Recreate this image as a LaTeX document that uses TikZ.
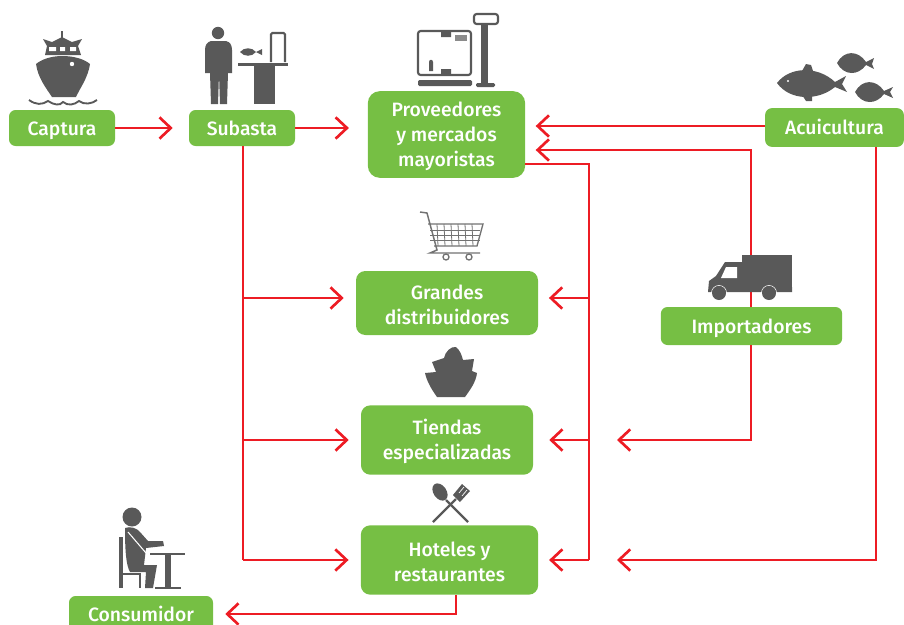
\documentclass[tikz,border=0pt]{standalone}
\usepackage{fontspec}
\setmainfont{Fira Sans}[UprightFont=* Medium]
\usepackage{xcolor}
\usetikzlibrary{arrows.meta}
\usetikzlibrary{calc}
\definecolor{boxgreen}{RGB}{118,191,68}
\definecolor{linered}{RGB}{237,28,36}
\definecolor{icongray}{RGB}{89,89,89}
\newcommand{\boxstrut}{\rule{0pt}{13.5pt}}
\tikzset{
  boxnode/.style={fill=boxgreen,text=white,rounded corners=5pt,inner sep=0pt,align=center,
    font=\fontsize{14.5}{19}\selectfont},
  oneline/.style={boxnode,text height=13.5pt,text depth=3pt},
  flowline/.style={draw=linered,line width=2.1pt},
  flowarrow/.style={flowline,-{Straight Barb[length=8.5pt,width=16pt,line width=2pt]}},
  iconfill/.style={fill=icongray,draw=none},
  iconline/.style={draw=icongray,line width=1.6pt},
  iconthin/.style={draw=icongray!85,line width=0.6pt}
}
\begin{document}
\begin{tikzpicture}[x=0.75pt,y=0.75pt,yscale=-1,xscale=1]
  \useasboundingbox (0,0) rectangle (904,625);

  % Boxes
  \node [oneline,minimum width=79.5pt,minimum height=27pt] (captura) at (62,128) {Captura};
  \node [oneline,minimum width=79.5pt,minimum height=27pt] (subasta) at (242,128) {Subasta};
  \node [boxnode,minimum width=118pt,minimum height=65pt,rounded corners=9pt] (proveedores) at (446.5,134.5) {\boxstrut Proveedores\\y mercados\\mayoristas};
  \node [oneline,minimum width=104pt,minimum height=29pt] (acuicultura) at (834.5,127.5) {Acuicultura};
  \node [oneline,minimum width=136pt,minimum height=28.5pt] (importadores) at (751.5,326) {Importadores};
  \node [boxnode,minimum width=136.5pt,minimum height=48pt,rounded corners=7pt] (grandes) at (447,303) {\boxstrut Grandes\\distribuidores};
  \node [boxnode,minimum width=129pt,minimum height=52pt,rounded corners=7pt] (tiendas) at (447,440) {\boxstrut Tiendas\\especializadas};
  \node [boxnode,minimum width=133pt,minimum height=52pt,rounded corners=7pt] (hoteles) at (449.5,560) {\boxstrut Hoteles y\\restaurantes};
  \node [oneline,minimum width=108pt,minimum height=27pt] (consumidor) at (141,614) {Consumidor};

  % Free ends of the lines
  \coordinate (provOut) at (525,164);
  \coordinate (provInA) at (525,126);
  \coordinate (provInB) at (525,150);
  \coordinate (acuiOut) at (876,147);
  \coordinate (acuiIn) at (765,126);
  \coordinate (impTop) at (751,307);
  \coordinate (impOut) at (751,345);
  \coordinate (tiendasIn) at (617,440);
  \coordinate (hotelesIn) at (617,560);
  \coordinate (hotelesOut) at (456,595);
  \coordinate (subastaOut) at (243,146);
  \coordinate (trunkR) at (589,164);

  % Top row
  \draw [flowarrow,shorten >=12pt] (captura.east) -- (subasta.west);
  \draw [flowarrow,shorten >=14pt] (subasta.east) -- (proveedores.west |- subasta.east);
  \draw [flowarrow,shorten >=8pt] (acuiIn) -- (provInA);
  \draw [flowarrow,shorten >=8pt] (impTop) |- (provInB);

  % Left trunk
  \draw [flowline] (subastaOut) -- (subastaOut |- hoteles.west);
  \draw [flowarrow,shorten >=9pt] (subastaOut |- 0,298) -- (grandes.west |- 0,298);
  \draw [flowarrow,shorten >=9pt] (subastaOut |- tiendas.west) -- (tiendas.west);
  \draw [flowarrow,shorten >=9pt] (subastaOut |- hoteles.west) -- (hoteles.west);

  % Right trunk
  \draw [flowline] (provOut) -- (trunkR) -- (trunkR |- hoteles.east);
  \draw [flowarrow,shorten >=8pt] (trunkR |- 0,298) -- (grandes.east |- 0,298);
  \draw [flowarrow,shorten >=12pt] (trunkR |- tiendas.east) -- (tiendas.east);
  \draw [flowarrow,shorten >=8pt] (trunkR |- hoteles.east) -- (hoteles.east);

  % Long lines
  \draw [flowarrow] (impOut) |- (tiendasIn);
  \draw [flowarrow] (acuiOut) |- (hotelesIn);
  \draw [flowarrow,shorten >=9pt] (hotelesOut) |- (consumidor.east);

  %Shape: ship
  \draw [iconline,line width=1.2pt] (62,31) -- (62,40);
  \fill [icongray] (43,39) -- (52,42) -- (62,37) -- (72,42) -- (82,39) -- (78,46) -- (81,55) -- (45,55) -- (47,46) -- cycle;
  \fill [white] (49,47) rectangle (56,51) (60,47) rectangle (65,51) (70,47) rectangle (76,51);
  \fill [icongray] (62,56) .. controls (74,56) and (84,59) .. (90,64) .. controls (88,78) and (80,88) .. (76,97) -- (52,97) .. controls (46,88) and (38,78) .. (36,64) .. controls (42,59) and (52,56) .. (62,56) -- cycle;
  \fill [white] (72,64) circle (2.2);
  \draw [iconline,line width=1.4pt] (29,100) .. controls (36,105) and (42,105) .. (48,101) .. controls (54,105) and (60,106) .. (63,102) .. controls (68,106) and (74,105) .. (79,101) .. controls (84,105) and (92,104) .. (97,100);

  %Shape: person at the auction table
  \fill [icongray] (218,33) circle (6.2);
  \fill [icongray] (211,41) -- (226,41) .. controls (230,42) and (232,45) .. (232,50) -- (232,73) -- (228,73) -- (227,104) -- (220,104) -- (219,74) -- (218,104) -- (211,104) -- (210,73) -- (205,73) -- (205,50) .. controls (205,45) and (207,42) .. (211,41) -- cycle;
  \fill [icongray] (240,52) .. controls (244,47) and (252,47) .. (256,52) -- (262,49) -- (262,55) -- (256,52) .. controls (252,57) and (244,57) .. (240,52) -- cycle;
  \fill [icongray] (238,63) rectangle (288,66);
  \fill [icongray] (254,66) rectangle (275,104);
  \draw [iconline,rounded corners=1pt] (271,62) -- (271,33) -- (285,33) -- (285,62);

  %Shape: scale with box
  \draw [iconline,rounded corners=2pt] (418,31) rectangle (471,75);
  \fill [icongray] (441,31) rectangle (451,37) (441,69) rectangle (451,75);
  \fill [icongray!70] (455,35) rectangle (467,41);
  \fill [icongray] (429,62) .. controls (429,59) and (433,59) .. (433,62) -- (433,71) -- (429,71) -- cycle;
  \fill [icongray,rounded corners=1pt] (418,80) rectangle (472,86);
  \fill [icongray] (481,24) rectangle (488,84);
  \fill [icongray,rounded corners=1pt] (476,83) rectangle (495,87);
  \draw [iconline,rounded corners=2pt] (474,14) rectangle (498,24);

  %Shape: fishes
  \fill [icongray] (777,83) .. controls (790,66) and (818,66) .. (835,82) -- (846,76) -- (842,84) -- (847,92) -- (835,87) .. controls (818,101) and (790,101) .. (777,83) -- cycle;
  \fill [icongray] (802,71) -- (806,64) -- (811,65) -- (813,71) -- cycle;
  \fill [icongray] (802,95) -- (812,95) -- (812,101) -- (806,101) -- cycle;
  \fill [white] (788,81) circle (1.2);
  \fill [icongray] (837,63) .. controls (844,50) and (858,50) .. (866,62) -- (874,58) -- (872,64) -- (874,69) -- (866,65) .. controls (858,76) and (844,76) .. (837,63) -- cycle;
  \fill [icongray] (855,92) .. controls (862,79) and (876,79) .. (884,91) -- (893,87) -- (890,92) -- (893,98) -- (884,94) .. controls (876,105) and (862,105) .. (855,92) -- cycle;

  %Shape: truck
  \fill [icongray] (742,255) rectangle (792,287);
  \fill [icongray] (742,262) -- (725,262) -- (716,276) -- (709,281) -- (708,292) -- (792,292) -- (792,287) -- (742,287) -- cycle;
  \fill [white] (726,267) -- (737,267) -- (737,278) -- (721,278) -- cycle;
  \draw [white,line width=0.5pt] (719,293) circle (7.5);
  \draw [white,line width=0.5pt] (769,293) circle (7.5);
  \fill [icongray] (719,293) circle (7) (769,293) circle (7);

  %Shape: cart
  \draw [iconthin,line width=1.1pt] (420,212) -- (427,213) -- (437,250) -- (430,253) -- (480,253);
  \draw [iconthin,line width=1pt] (428,224) -- (483,224) -- (477,246) -- (434,246);
  \foreach \gx in {437,444,451,458,465,472}
    \draw [iconthin] (\gx,224) -- (\gx+1,246);
  \foreach \gy in {230,235,240}
    \draw [iconthin] (430,\gy) -- (480,\gy);
  \draw [iconthin,line width=1pt] (446,257) circle (3) (469,257) circle (3);

  %Shape: salad bowl
  \fill [icongray] (425,373) -- (436,372) -- (432,362) -- (444,358) .. controls (445,352) and (451,346) .. (456,347) .. controls (460,350) and (462,356) .. (463,360) -- (474,359) -- (472,371) -- (477,373) .. controls (476,382) and (470,390) .. (465,397) -- (437,397) .. controls (432,390) and (427,382) .. (425,373) -- cycle;

  %Shape: spoon and fork
  \draw [iconline,line width=1.7pt] (446,500) -- (468,522);
  \fill [icongray,rotate around={-35:(440,492)}] (440,492) ellipse (6.5 and 9.5);
  \draw [iconline,line width=1.7pt] (456,499) -- (433,522);
  \fill [icongray] (453,495) -- (462,484) -- (470,491) -- (460,502) -- cycle;
  \draw [white,line width=0.5pt] (459,493) -- (464,487) (462,496) -- (467,490);

  %Shape: person at the table
  \fill [icongray] (132,517) circle (9.5);
  \draw [iconline,line width=2.4pt] (121,537) -- (121,588);
  \fill [icongray] (125,528) .. controls (130,526) and (137,528) .. (140,532) -- (148,541) -- (163,541) -- (164,546) -- (146,548) -- (144,565) -- (157,565) -- (153,588) -- (145,588) -- (146,572) -- (130,572) .. controls (126,565) and (125,550) .. (125,528) -- cycle;
  \draw [white,line width=0.8pt] (128,532) -- (146,553);
  \draw [iconline,line width=1.2pt] (121,574) -- (140,574) -- (140,588);
  \draw [iconline,line width=1.5pt] (150,554) -- (185,554);
  \fill [icongray] (165,554) rectangle (171,587);
  \draw [iconline,line width=1.3pt] (155,588) -- (181,588);

\end{tikzpicture}
\end{document}
